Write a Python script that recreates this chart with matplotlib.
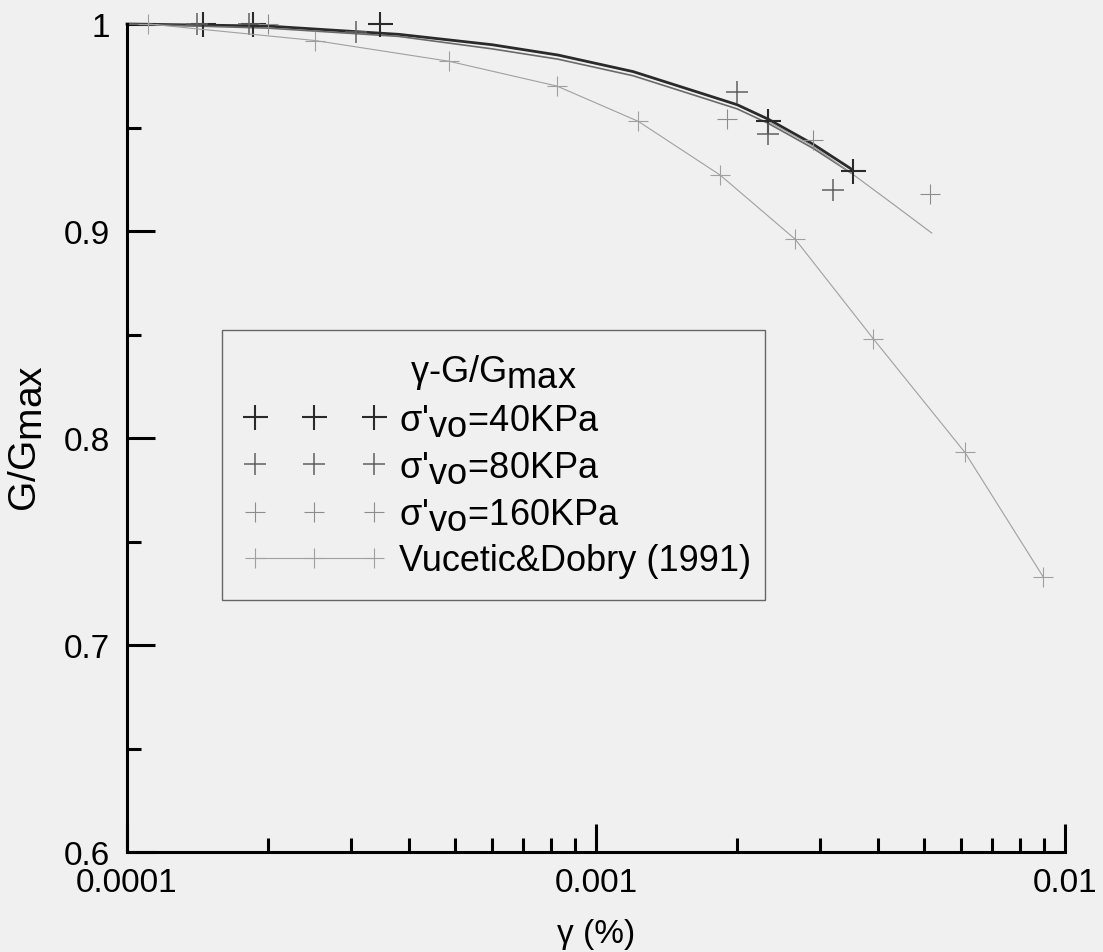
import numpy as np
import matplotlib.pyplot as plt
import matplotlib._mathtext as _mathtext
from matplotlib.ticker import FixedLocator, LogLocator, NullFormatter

plt.rcParams['font.family'] = ['Liberation Sans', 'DejaVu Sans']
plt.rcParams['mathtext.default'] = 'regular'
# keep sub-scripts at full size, only lowered
_mathtext.SHRINK_FACTOR = 1.0

# strain (%) and G/Gmax for each confining stress
g40 = [1.45e-4, 1.86e-4, 3.46e-4, 2.33e-3, 3.53e-3]
r40 = [1.0, 1.0, 1.0, 0.953, 0.929]
g80 = [1.41e-4, 1.82e-4, 3.08e-4, 2.00e-3, 2.33e-3, 3.20e-3]
r80 = [1.0, 1.0, 0.996, 0.967, 0.947, 0.920]
g160 = [2.0e-4, 1.90e-3, 2.90e-3, 5.15e-3]
r160 = [1.0, 0.954, 0.944, 0.918]

# Vucetic & Dobry (1991) reference curve
g_vd = [1.11e-4, 2.52e-4, 4.86e-4, 8.26e-4, 1.23e-3, 1.84e-3, 2.66e-3, 3.90e-3, 6.12e-3, 8.98e-3]
r_vd = [1.0, 0.992, 0.982, 0.970, 0.953, 0.927, 0.896, 0.848, 0.793, 0.733]

# trend curves through the test data
fit_g = [1.0e-4, 2.0e-4, 3.8e-4, 6.0e-4, 8.3e-4, 1.2e-3, 1.6e-3, 2.0e-3, 2.33e-3, 2.9e-3, 3.5e-3]
fit_a = [1.0, 0.999, 0.995, 0.990, 0.985, 0.977, 0.968, 0.961, 0.954, 0.942, 0.930]
fit_b = [1.0, 0.998, 0.994, 0.988, 0.983, 0.975, 0.966, 0.959, 0.952, 0.940, 0.928]
tail_g = [2.33e-3, 2.9e-3, 3.5e-3, 4.3e-3, 5.2e-3]
tail_r = [0.953, 0.941, 0.928, 0.913, 0.899]

W, H = 1103, 953
fig = plt.figure(figsize=(W / 100, H / 100), dpi=100)
fig.patch.set_facecolor('#f0f0f0')

ax = fig.add_axes([127 / W, 1 - 853 / H, 938 / W, 828 / H])
ax.set_facecolor('none')

ax.plot(fit_g, fit_a, color='#2a2a2a', lw=2.0, clip_on=False)
ax.plot(fit_g, fit_b, color='#6a6a6a', lw=1.2, clip_on=False)
ax.plot(tail_g, tail_r, color='#9a9a9a', lw=0.8, clip_on=False)

ax.plot(g40, r40, '+', color='#2a2a2a', ms=18, mew=1.5, clip_on=False,
        label="σ'$_{vo}$=40KPa")
ax.plot(g80, r80, '+', color='#606060', ms=16, mew=1.1, clip_on=False,
        label="σ'$_{vo}$=80KPa")
ax.plot(g160, r160, '+', color='#8c8c8c', ms=15, mew=0.8, clip_on=False,
        label="σ'$_{vo}$=160KPa")
ax.plot(g_vd, r_vd, '+-', color='#a0a0a0', ms=15, mew=0.8, lw=0.8, clip_on=False,
        label='Vucetic&Dobry (1991)')

ax.set_xscale('log')
ax.set_xlim(1e-4, 1e-2)
ax.set_ylim(0.6, 1.0)

ax.xaxis.set_major_locator(FixedLocator([1e-4, 1e-3, 1e-2]))
ax.xaxis.set_minor_locator(LogLocator(base=10, subs=np.arange(2, 10)))
ax.xaxis.set_minor_formatter(NullFormatter())
ax.set_xticklabels(['0.0001', '0.001', '0.01'])
ax.set_yticks([0.6, 0.7, 0.8, 0.9, 1.0])
ax.set_yticklabels(['0.6', '0.7', '0.8', '0.9', '1'])
ax.set_yticks([0.65, 0.75, 0.85, 0.95], minor=True)

for s in ['top', 'right']:
    ax.spines[s].set_visible(False)
for s in ['left', 'bottom']:
    ax.spines[s].set_linewidth(2.2)

ax.tick_params(which='both', direction='in', width=2.2, labelsize=24, colors='black')
ax.tick_params(which='major', length=20)
ax.tick_params(which='minor', length=10)
ax.tick_params(axis='x', pad=11)
ax.tick_params(axis='y', pad=12)

ax.set_xlabel('γ (%)', fontsize=24, labelpad=14)
ax.set_ylabel('G/G$_{max}$', fontsize=28, labelpad=14)

leg = ax.legend(loc='upper left', bbox_to_anchor=(95 / 938, (853 - 331) / 828, 543 / 938, 0.0001),
                mode='expand', numpoints=3, handlelength=3.9, handletextpad=0.4,
                fontsize=26, title='γ-G/G$_{max}$', title_fontsize=26,
                frameon=True, fancybox=False, borderpad=0.6, borderaxespad=0,
                labelspacing=0.31)
leg.get_frame().set_edgecolor('#444444')
leg.get_frame().set_linewidth(1.0)
leg.get_frame().set_facecolor('none')

fig.savefig('out.png', dpi=100, facecolor=fig.get_facecolor())
